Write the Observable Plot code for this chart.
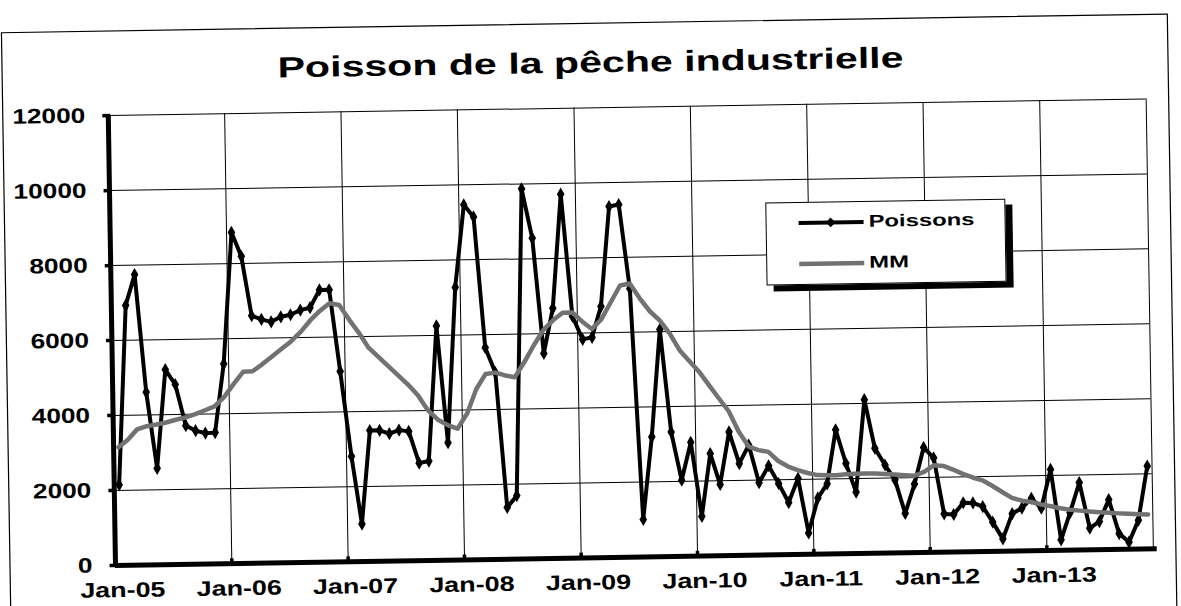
<!DOCTYPE html>
<html>
<head>
<meta charset="utf-8">
<script src="https://cdn.jsdelivr.net/npm/d3@7"></script>
<script src="https://cdn.jsdelivr.net/npm/@observablehq/plot@0.6"></script>
<style>
html, body { margin: 0; padding: 0; background: #fff; width: 1181px; height: 606px; overflow: hidden; }
#wrap { position: absolute; left: 0; top: 0; width: 1181px; height: 606px; transform: rotate(-0.92deg); transform-origin: 115px 565px; }
#wrap svg { position: absolute; left: 0; top: 0; overflow: visible; }
#legend { position: absolute; left: 771px; top: 213px; width: 240px; height: 83px; box-sizing: border-box; border: 1px solid #000; box-shadow: 7px 6px 0 #000; background: #fff; font-family: "Liberation Sans", Arial, sans-serif; font-weight: bold; font-size: 17px; }
#legend svg { position: absolute; left: 0; top: 0; }
#legend .lab { position: absolute; left: 102px; height: 20px; line-height: 20px; white-space: nowrap; transform: scaleX(1.4); transform-origin: left center; }
</style>
</head>
<body>
<div id="wrap"></div>
<script>
// ---- data ----
const title = "Poisson de la pêche industrielle";
const seriesNames = ["Poissons", "MM"];
const xLabels = ["Jan-05", "Jan-06", "Jan-07", "Jan-08", "Jan-09", "Jan-10", "Jan-11", "Jan-12", "Jan-13"];
const yTicks = [0, 2000, 4000, 6000, 8000, 10000, 12000];

// monthly catches, Jan 2005 -> Nov 2013
const poissons = [
  2150, 6930, 7750, 4610, 2570, 5200, 4800, 3700, 3560, 3490, 3500, 5330,
  8830, 8190, 6600, 6500, 6430, 6560, 6610, 6730, 6790, 7260, 7260, 5080,
  2810, 1000, 3490, 3490, 3400, 3490, 3450, 2600, 2650, 6250, 3130, 7270,
  9470, 9140, 5650, 4980, 1380, 1690, 9870, 8550, 5470, 6670, 9710, 6450,
  5830, 5880, 6700, 9360, 9410, 7160, 1000, 3200, 6060, 3320, 2030, 3040,
  1060, 2730, 1900, 3300, 2450, 2940, 1930, 2380, 1900, 1390, 2030, 570,
  1500, 1870, 3310, 2410, 1640, 4100, 2800, 2350, 1950, 1050, 1830, 2800,
  2520, 1020, 1000, 1310, 1300, 1200, 780, 330, 1000, 1140, 1400, 1130,
  2160, 280, 1000, 1800, 580, 750, 1330, 420, 190, 770, 2210
];

// moving average (MM)
const mm = [
  3150, 3350, 3620, 3700, 3740, 3790, 3860, 3920, 4000, 4100, 4200, 4450,
  4800, 5110, 5120, 5300, 5500, 5700, 5900, 6150, 6450, 6700, 6900, 6850,
  6450, 6100, 5700, 5450, 5200, 4950, 4700, 4400, 4000, 3750, 3600, 3500,
  3900, 4550, 4950, 4980, 4900, 4850, 5250, 5700, 6100, 6350, 6550, 6550,
  6300, 6100, 6350, 6800, 7250, 7300, 6900, 6550, 6300, 5950, 5500, 5200,
  4900, 4550, 4200, 3850, 3300, 2900, 2800, 2750, 2500, 2350, 2250, 2170,
  2110, 2100, 2100, 2120, 2130, 2130, 2130, 2110, 2090, 2070, 2050, 2150,
  2320, 2300, 2200, 2080, 1980, 1900, 1750, 1580, 1420, 1340, 1300, 1230,
  1180, 1120, 1080, 1050, 1020, 1000, 980, 960, 945, 930, 920
];

// ---- build ----
const start = new Date(Date.UTC(2005, 0, 1));
const end = new Date(Date.UTC(2013, 11, 1));
const mid = i => new Date((Date.UTC(2005, i, 1) + Date.UTC(2005, i + 1, 1)) / 2);
const rowsP = poissons.map((v, i) => ({date: mid(i), value: v}));
const rowsM = mm.map((v, i) => ({date: mid(i), value: v}));
const yearStarts = d3.range(2006, 2014).map(y => new Date(Date.UTC(y, 0, 1)));
const labelRows = xLabels.map((t, k) => ({date: mid(12 * k), text: t}));

const chart = Plot.plot({
  width: 1181,
  height: 606,
  marginLeft: 115,
  marginRight: 28,
  marginTop: 115,
  marginBottom: 41,
  style: {fontFamily: '"Liberation Sans", Arial, sans-serif', background: "transparent", overflow: "visible", color: "#000"},
  x: {type: "utc", domain: [start, end], axis: null},
  y: {domain: [0, 12000], axis: null},
  marks: [
    Plot.ruleY(yTicks.slice(1), {x1: start, x2: end, stroke: "#000", strokeWidth: 1}),
    Plot.ruleX([...yearStarts, end], {y1: 0, y2: 12000, stroke: "#000", strokeWidth: 1}),
    Plot.line(rowsP, {x: "date", y: "value", stroke: "#000", strokeWidth: 4}),
    Plot.dot(rowsP, {x: "date", y: "value", symbol: "diamond", r: 4, fill: "#000"}),
    Plot.line(rowsM, {x: "date", y: "value", stroke: "#727272", strokeWidth: 4.5}),
    Plot.ruleX([start], {y1: 0, y2: 12000, stroke: "#000", strokeWidth: 5}),
    Plot.ruleY([0], {x1: start, x2: d3.utcDay.offset(end, 12), stroke: "#000", strokeWidth: 5}),
    Plot.ruleY(yTicks, {x1: d3.utcDay.offset(start, -17), x2: d3.utcDay.offset(start, 8), stroke: "#000", strokeWidth: 3.5}),
    Plot.ruleX(yearStarts, {y1: 0, y2: 130, stroke: "#000", strokeWidth: 3.5}),
    Plot.text(yTicks, {x: start, y: d => d, text: d => String(d), textAnchor: "end", dx: -23, fontSize: 21, fontWeight: "bold"}),
    Plot.text(labelRows, {x: "date", y: 0, text: "text", dx: 2, dy: 25, fontSize: 21, fontWeight: "bold"}),
    Plot.text([title], {frameAnchor: "top", dx: -36, dy: -56, fontSize: 29, fontWeight: "bold"})
  ]
});

const wrap = document.getElementById("wrap");
wrap.appendChild(chart);

// outer frame of the chart
d3.select(chart).insert("rect", ":first-child")
  .attr("x", 10).attr("y", 31).attr("width", 1166).attr("height", 700)
  .attr("fill", "none").attr("stroke", "#000").attr("stroke-width", 1.2);

// widen the bold lettering like the reference
d3.select(chart).selectAll("text").each(function() {
  const t = this.textContent;
  const w = this.getComputedTextLength();
  let target = null;
  if (t === title) target = 626;
  else if (/^Jan/.test(t)) target = w * 1.28;
  else if (/^\d+$/.test(t)) target = w * 1.25;
  if (target) {
    this.setAttribute("textLength", target);
    this.setAttribute("lengthAdjust", "spacingAndGlyphs");
  }
});

// legend
const legend = document.createElement("div");
legend.id = "legend";
const ls = d3.create("svg").attr("width", 240).attr("height", 83);
const rowY = [20, 61];
ls.append("line").attr("x1", 32).attr("x2", 97).attr("y1", rowY[0]).attr("y2", rowY[0]).attr("stroke", "#000").attr("stroke-width", 4);
ls.append("path").attr("d", d3.symbol(d3.symbolDiamond2, 60)()).attr("transform", `translate(64,${rowY[0]})`).attr("fill", "#000");
ls.append("line").attr("x1", 32).attr("x2", 97).attr("y1", rowY[1]).attr("y2", rowY[1]).attr("stroke", "#727272").attr("stroke-width", 4.5);
legend.appendChild(ls.node());
seriesNames.forEach((name, k) => {
  const s = document.createElement("span");
  s.className = "lab";
  s.textContent = name;
  s.style.top = (rowY[k] - 10) + "px";
  legend.appendChild(s);
});
wrap.appendChild(legend);
</script>
</body>
</html>
